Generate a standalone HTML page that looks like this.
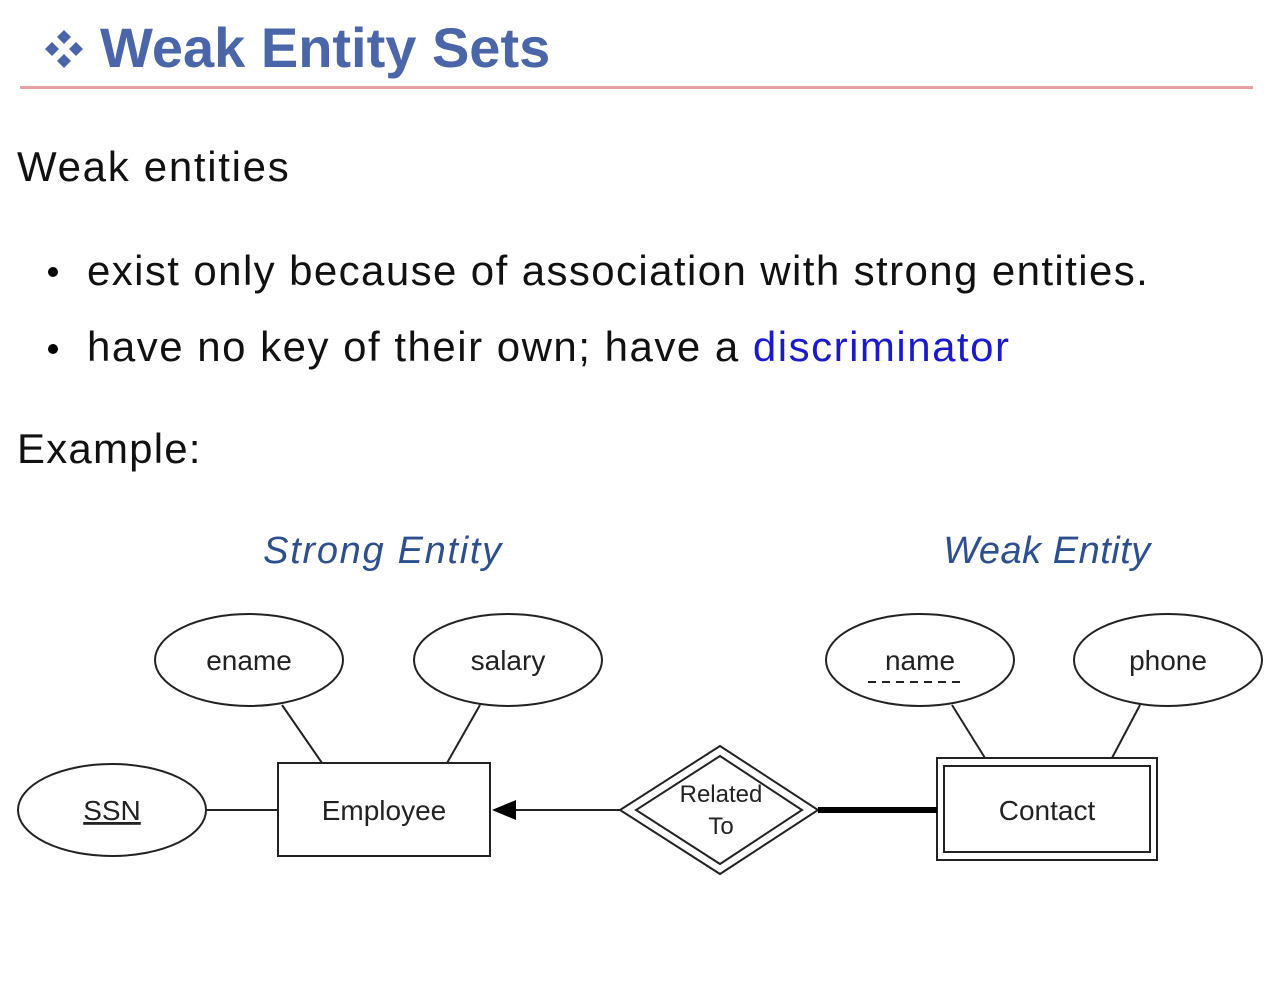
<!DOCTYPE html>
<html><head><meta charset="utf-8"><style>
body{margin:0;width:1288px;height:1000px;background:#fff;position:relative;overflow:hidden;font-family:"Liberation Sans",sans-serif}
.t{position:absolute;white-space:nowrap}
</style></head><body>
<div class="t" style="left:100px;top:15px;font-size:56px;color:#4a65a8;font-weight:bold;letter-spacing:0px">Weak Entity Sets</div>
<svg width="1288" height="1000" style="position:absolute;left:0;top:0">
<g fill="#4a65a8">
<polygon points="64,30 71,37 64,44 57,37"/><polygon points="64,54 71,61 64,68 57,61"/>
<polygon points="52,42 59,49 52,56 45,49"/><polygon points="76,42 83,49 76,56 69,49"/>
</g>
<line x1="20" y1="87.5" x2="1253" y2="87.5" stroke="#e8a0a0" stroke-width="3"/>
<circle cx="53" cy="272" r="5"/><circle cx="53" cy="349" r="5"/>
<g fill="none" stroke="#222" stroke-width="2">
<ellipse cx="249" cy="660" rx="94" ry="46"/>
<ellipse cx="508" cy="660" rx="94" ry="46"/>
<ellipse cx="920" cy="660" rx="94" ry="46"/>
<ellipse cx="1168" cy="660" rx="94" ry="46"/>
<ellipse cx="112" cy="810" rx="94" ry="46"/>
<rect x="278" y="763" width="212" height="93"/>
<rect x="937" y="758" width="220" height="102"/>
<rect x="944" y="766" width="206" height="86"/>
<polygon points="720,746 818,810 720,874 620,810"/>
<polygon points="720,756 802,810 720,864 636,810"/>
<line x1="282" y1="705" x2="322" y2="763"/>
<line x1="480" y1="705" x2="447" y2="763"/>
<line x1="207" y1="810" x2="278" y2="810"/>
<line x1="952" y1="705" x2="985" y2="758"/>
<line x1="1140" y1="705" x2="1112" y2="758"/>
<line x1="510" y1="810" x2="620" y2="810"/>
<line x1="868" y1="682" x2="964" y2="682" stroke-dasharray="8,6"/>
</g>
<line x1="818" y1="810" x2="937" y2="810" stroke="#000" stroke-width="6"/>
<polygon points="492,810 516,800 516,820" fill="#000"/>
<g font-family="Liberation Sans,sans-serif" font-size="28" fill="#222" text-anchor="middle">
<text x="249" y="670">ename</text><text x="508" y="670">salary</text>
<text x="920" y="670">name</text><text x="1168" y="670">phone</text>
<text x="112" y="820" text-decoration="underline">SSN</text>
<text x="384" y="820">Employee</text><text x="1047" y="820">Contact</text>
<text x="721" y="802" font-size="24">Related</text><text x="721" y="834" font-size="24">To</text>
</g>
<g font-family="Liberation Sans,sans-serif" font-size="38" font-style="italic" fill="#2d4f8e" text-anchor="middle">
<text x="383" y="563" letter-spacing="1.7">Strong Entity</text><text x="1047" y="563" letter-spacing="0.5">Weak Entity</text>
</g>
</svg>
<div class="t" style="left:17px;top:143px;font-size:42px;color:#111;letter-spacing:1.7px">Weak entities</div>
<div class="t" style="left:87px;top:247px;font-size:42px;color:#111;letter-spacing:1.4px">exist only because of association with strong entities.</div>
<div class="t" style="left:87px;top:323px;font-size:42px;color:#111;letter-spacing:1.5px">have no key of their own; have a <span style="color:#1a1acc">discriminator</span></div>
<div class="t" style="left:17px;top:425px;font-size:42px;color:#111;letter-spacing:1.2px">Example:</div>
</body></html>
